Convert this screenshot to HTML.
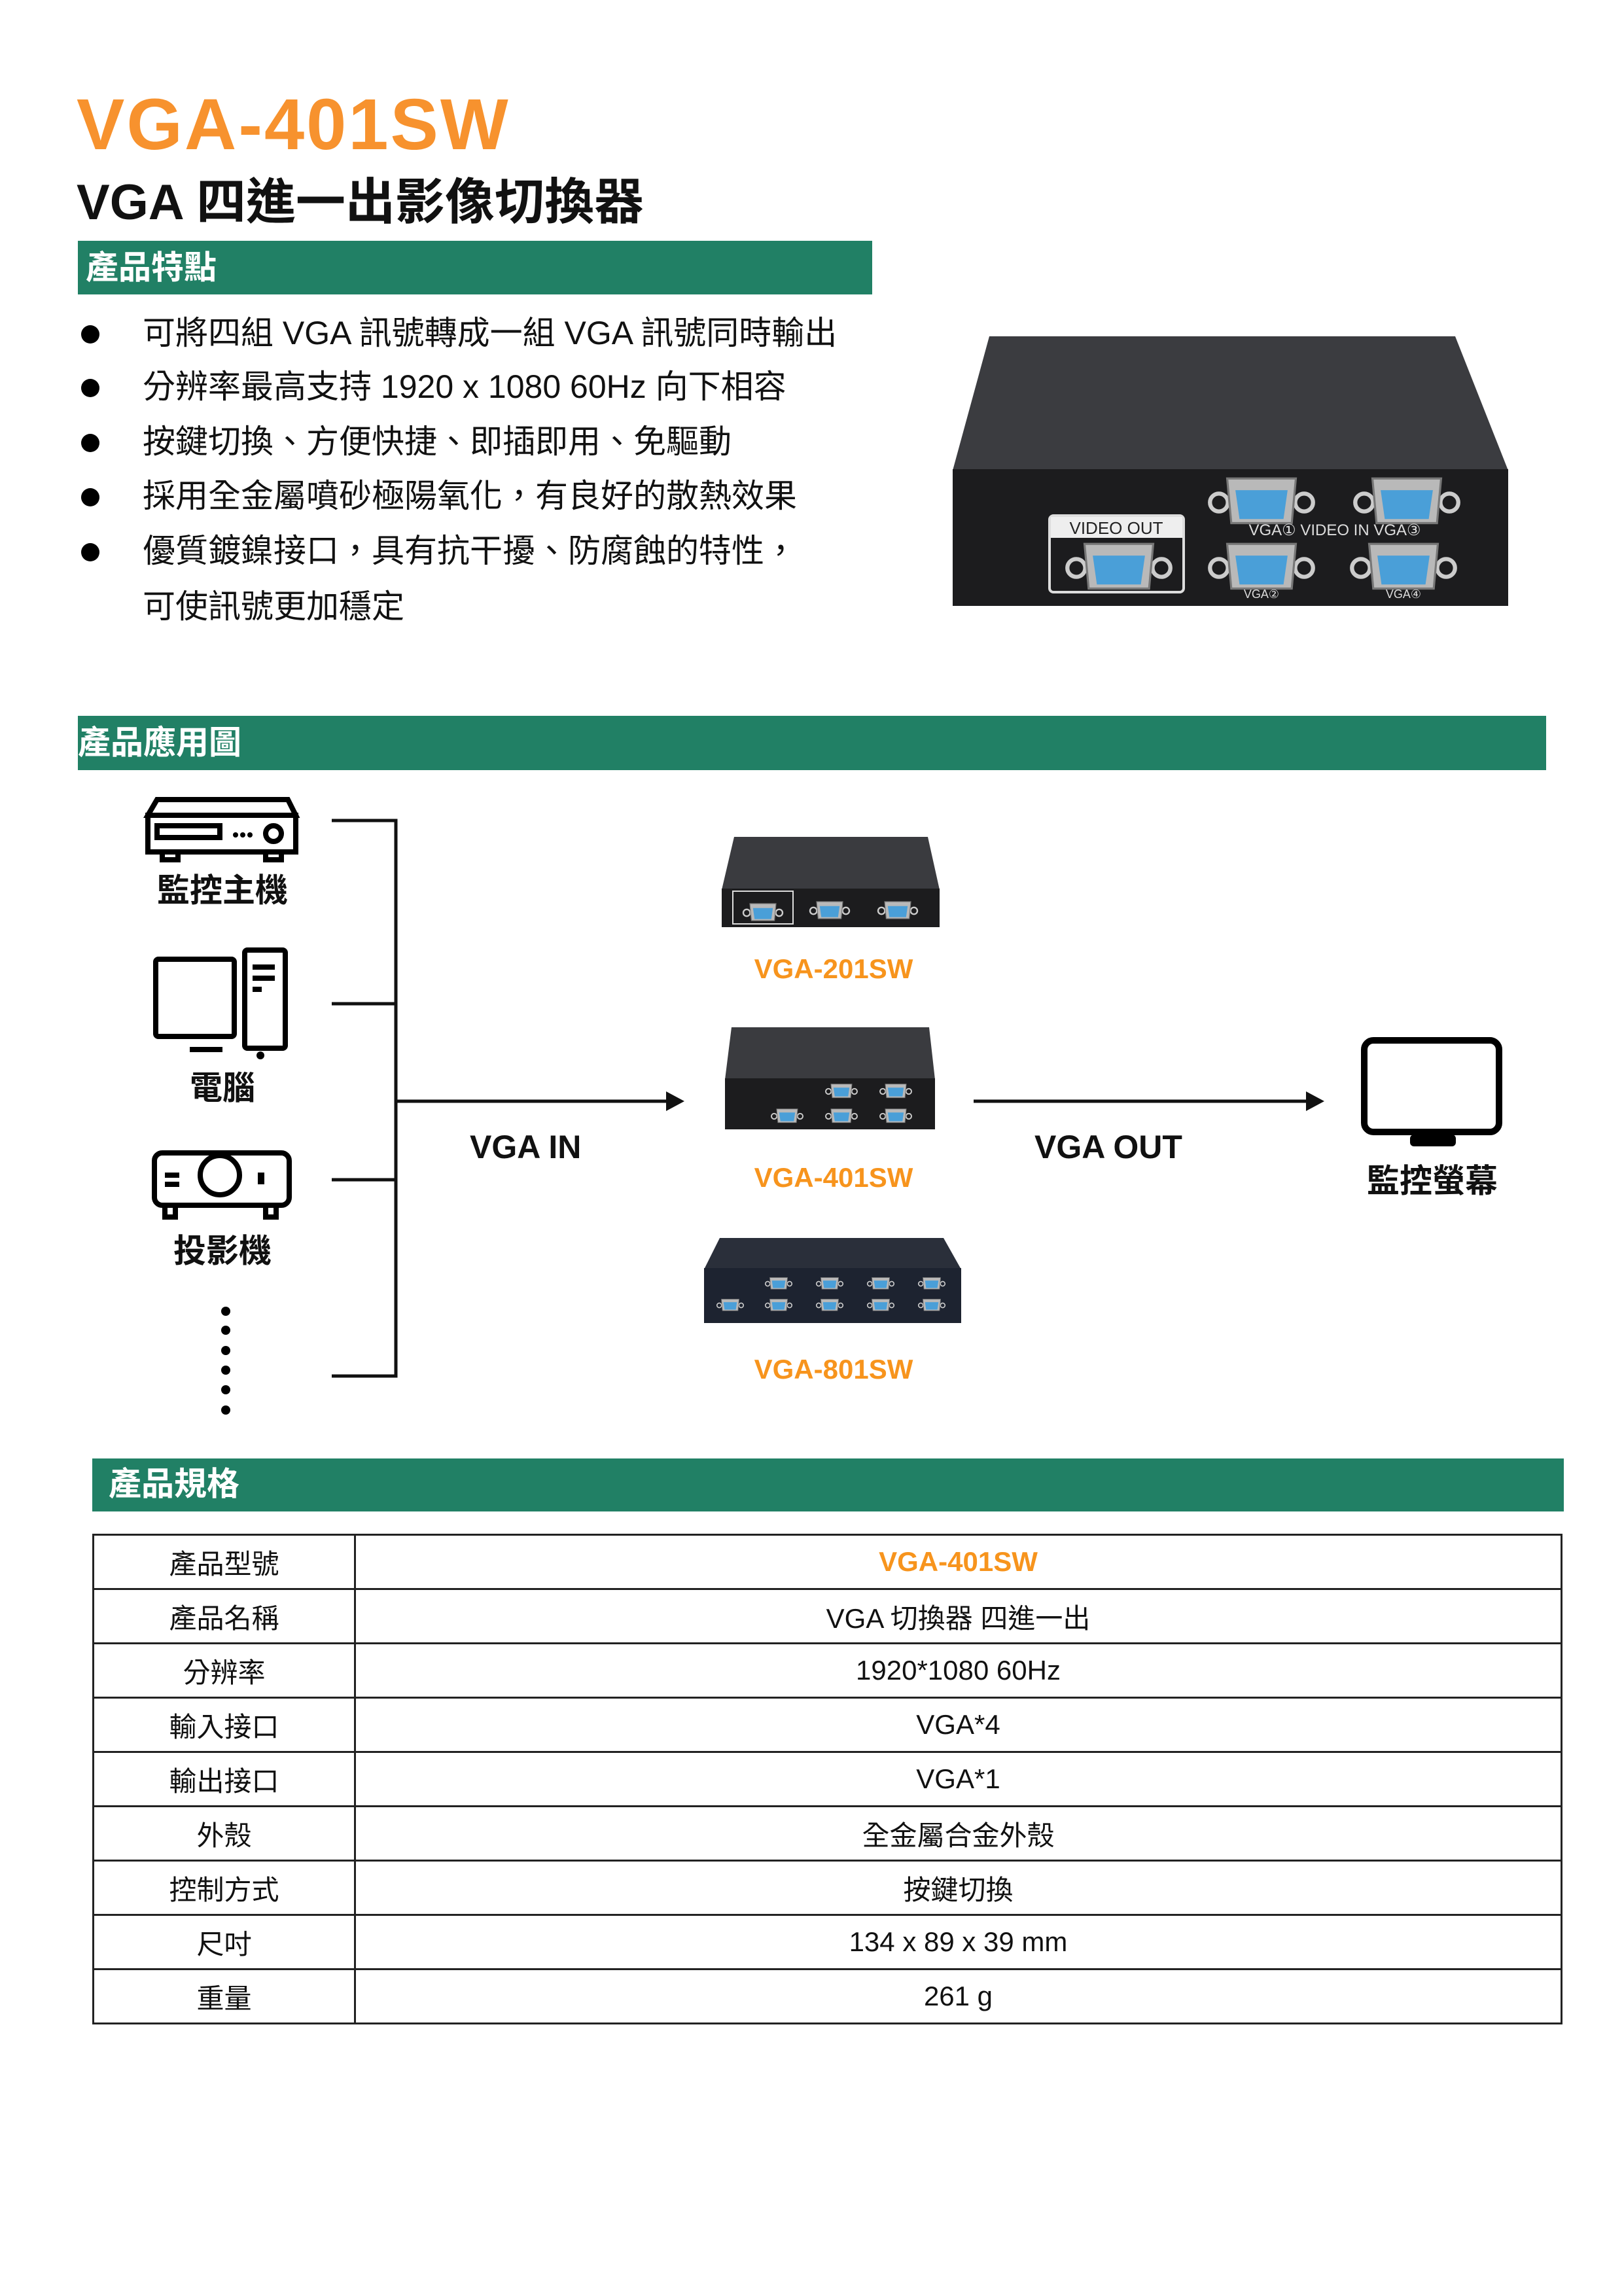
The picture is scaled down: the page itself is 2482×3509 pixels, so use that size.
<!DOCTYPE html>
<html><head><meta charset="utf-8"><style>
*{margin:0;padding:0;box-sizing:border-box}
body{width:2482px;height:3509px;background:#fff;position:relative;font-family:"Liberation Sans","Noto Sans CJK TC",sans-serif;color:#111;overflow:hidden}
.a{position:absolute;white-space:nowrap}
.bar{position:absolute;background:#218065}
.bar span{position:absolute;color:#fff;font-weight:bold;font-size:50px;line-height:1}
.bul{position:absolute;left:218px;font-size:50px;line-height:1}
.dot{position:absolute;left:124px;width:28px;height:28px;border-radius:50%;background:#000}
.lbl{position:absolute;font-weight:bold;font-size:50px;line-height:1;text-align:center;width:300px}
.org{color:#f7941d;font-weight:bold;font-size:42px;position:absolute;width:400px;text-align:center;line-height:1}
table{position:absolute;left:141px;top:2344px;width:2247px;border-collapse:collapse}
td{border:3px solid #222;font-size:42px;text-align:center;height:83px;padding:0}
td:first-child{width:400px}
</style></head><body>
<div class="a" style="left:117px;top:136px;font-size:110px;font-weight:900;color:#f7922e;line-height:1;letter-spacing:3px">VGA-401SW</div>
<div class="a" style="left:117px;top:272px;font-size:76px;font-weight:bold;line-height:1">VGA 四進一出影像切換器</div>
<div class="bar" style="left:119px;top:368px;width:1214px;height:82px"><span style="left:12px;top:16px">產品特點</span></div>

<div class="dot" style="top:497px"></div><div class="bul" style="top:484px">可將四組 VGA 訊號轉成一組 VGA 訊號同時輸出</div>
<div class="dot" style="top:579px"></div><div class="bul" style="top:566px">分辨率最高支持 1920 x 1080 60Hz 向下相容</div>
<div class="dot" style="top:663px"></div><div class="bul" style="top:650px">按鍵切換、方便快捷、即插即用、免驅動</div>
<div class="dot" style="top:746px"></div><div class="bul" style="top:733px">採用全金屬噴砂極陽氧化，有良好的散熱效果</div>
<div class="dot" style="top:830px"></div><div class="bul" style="top:817px">優質鍍鎳接口，具有抗干擾、防腐蝕的特性，</div>
<div class="bul" style="top:902px">可使訊號更加穩定</div>

<svg class="a" style="left:0;top:0" width="2482" height="3509">
<defs>
<g id="c">
<circle cx="-62" cy="0" r="13" fill="none" stroke="#ccc" stroke-width="6"/>
<circle cx="62" cy="0" r="13" fill="none" stroke="#ccc" stroke-width="6"/>
<path d="M-50,-35 L50,-35 L44,30 L-44,30 Z" fill="#b9b9b9" stroke="#777" stroke-width="3"/>
<path d="M-38,-18 L38,-18 L32,24 L-32,24 Z" fill="#4a9fd8"/>
</g>
</defs>
<polygon points="1512,514 2224,514 2305,719 1456,719" fill="#3b3c40"/>
<rect x="1456" y="717" width="849" height="209" fill="#1c1c1e"/>
<rect x="1604" y="788" width="205" height="117" fill="none" stroke="#ddd" stroke-width="4" rx="6"/>
<rect x="1606" y="790" width="201" height="32" fill="#eee"/>
<text x="1706" y="816" font-size="26" text-anchor="middle" fill="#222" font-family="Liberation Sans">VIDEO OUT</text>
<use href="#c" transform="translate(1710,868) scale(1.05)"/>
<use href="#c" transform="translate(1928,768) scale(1.05)"/>
<use href="#c" transform="translate(2150,768) scale(1.05)"/>
<use href="#c" transform="translate(1928,868) scale(1.05)"/>
<use href="#c" transform="translate(2145,868) scale(1.05)"/>
<text x="2040" y="818" font-size="24" text-anchor="middle" fill="#ddd" font-family="Liberation Sans">VGA①  VIDEO IN  VGA③</text>
<text x="1928" y="914" font-size="18" text-anchor="middle" fill="#ddd" font-family="Liberation Sans">VGA②</text>
<text x="2145" y="914" font-size="18" text-anchor="middle" fill="#ddd" font-family="Liberation Sans">VGA④</text>

<g stroke="#111" stroke-width="5" fill="none">
<path d="M507,1254 H605 V2103 H507"/>
<path d="M507,1534 H605 M507,1803 H605"/>
<path d="M605,1683 H1035 M1488,1683 H2013"/>
</g>
<path d="M1018,1668 L1046,1683 L1018,1698 Z" fill="#111"/>
<path d="M1996,1668 L2024,1683 L1996,1698 Z" fill="#111"/>
<g stroke="#000" stroke-width="8" fill="none">
<path d="M240,1222 H440 L452,1246 H226 Z"/>
<rect x="226" y="1246" width="226" height="56"/>
<rect x="240" y="1262" width="96" height="18"/>
<circle cx="418" cy="1274" r="12"/>
<path d="M248,1302 v12 h24 v-12 M406,1302 v12 h24 v-12"/>
<rect x="238" y="1466" width="120" height="118" rx="4"/>
<rect x="374" y="1452" width="62" height="150" rx="4"/>
<path d="M290,1604 H340 M386,1478 H420 M386,1495 H420 M386,1512 H400"/>
<rect x="236" y="1762" width="206" height="80" rx="12"/>
<circle cx="336" cy="1796" r="30"/>
<path d="M252,1796 h22 M252,1810 h22"/>
<path d="M252,1842 v18 h16 v-18 M406,1842 v18 h16 v-18"/>
<rect x="2085" y="1590" width="206" height="140" rx="14" stroke-width="10"/>
</g>
<circle cx="360" cy="1276" r="4"/><circle cx="371" cy="1276" r="4"/><circle cx="382" cy="1276" r="4"/>
<rect x="394" y="1792" width="10" height="18" fill="#000"/>
<circle cx="398" cy="1613" r="6" fill="#000"/>
<rect x="2155" y="1734" width="70" height="18" rx="6" fill="#000"/>
<g fill="#000"><circle cx="345" cy="2004" r="7"/><circle cx="345" cy="2033" r="7"/><circle cx="345" cy="2064" r="7"/><circle cx="345" cy="2094" r="7"/><circle cx="345" cy="2124" r="7"/><circle cx="345" cy="2155" r="7"/></g>

<polygon points="1122,1279 1418,1279 1436,1360 1103,1360" fill="#3a3b3f"/>
<rect x="1103" y="1358" width="333" height="59" fill="#1c1c1e"/>
<rect x="1120" y="1362" width="92" height="50" fill="none" stroke="#ddd" stroke-width="2"/>
<use href="#c" transform="translate(1166,1395) scale(0.4)"/>
<use href="#c" transform="translate(1268,1392) scale(0.4)"/>
<use href="#c" transform="translate(1372,1392) scale(0.4)"/>
<polygon points="1118,1570 1420,1570 1429,1650 1108,1650" fill="#3a3b3f"/>
<rect x="1108" y="1648" width="321" height="78" fill="#1c1c1e"/>
<use href="#c" transform="translate(1203,1706) scale(0.32)"/>
<use href="#c" transform="translate(1286,1668) scale(0.32)"/>
<use href="#c" transform="translate(1369,1668) scale(0.32)"/>
<use href="#c" transform="translate(1286,1706) scale(0.32)"/>
<use href="#c" transform="translate(1369,1706) scale(0.32)"/>
<polygon points="1100,1892 1442,1892 1469,1940 1076,1940" fill="#2a2f3a"/>
<rect x="1076" y="1938" width="393" height="84" fill="#1d2330"/>
<use href="#c" transform="translate(1190,1962) scale(0.27)"/>
<use href="#c" transform="translate(1268,1962) scale(0.27)"/>
<use href="#c" transform="translate(1346,1962) scale(0.27)"/>
<use href="#c" transform="translate(1424,1962) scale(0.27)"/>
<use href="#c" transform="translate(1116,1995) scale(0.27)"/>
<use href="#c" transform="translate(1190,1995) scale(0.27)"/>
<use href="#c" transform="translate(1268,1995) scale(0.27)"/>
<use href="#c" transform="translate(1346,1995) scale(0.27)"/>
<use href="#c" transform="translate(1424,1995) scale(0.27)"/>
</svg>

<div class="bar" style="left:119px;top:1094px;width:2244px;height:83px"><span style="left:0;top:16px">產品應用圖</span></div>
<div class="lbl" style="left:190px;top:1336px">監控主機</div>
<div class="lbl" style="left:190px;top:1638px">電腦</div>
<div class="lbl" style="left:190px;top:1887px">投影機</div>
<div class="lbl" style="left:2039px;top:1780px">監控螢幕</div>
<div class="a" style="left:718px;top:1724px;font-size:50px;font-weight:bold">VGA IN</div>
<div class="a" style="left:1581px;top:1724px;font-size:50px;font-weight:bold">VGA OUT</div>
<div class="org" style="left:1074px;top:1460px">VGA-201SW</div>
<div class="org" style="left:1074px;top:1779px">VGA-401SW</div>
<div class="org" style="left:1074px;top:2072px">VGA-801SW</div>

<div class="bar" style="left:141px;top:2229px;width:2249px;height:81px"><span style="left:25px;top:14px">產品規格</span></div>
<table>
<tr><td>產品型號</td><td style="color:#f7941d;font-weight:bold">VGA-401SW</td></tr>
<tr><td>產品名稱</td><td>VGA 切換器 四進一出</td></tr>
<tr><td>分辨率</td><td>1920*1080 60Hz</td></tr>
<tr><td>輸入接口</td><td>VGA*4</td></tr>
<tr><td>輸出接口</td><td>VGA*1</td></tr>
<tr><td>外殼</td><td>全金屬合金外殼</td></tr>
<tr><td>控制方式</td><td>按鍵切換</td></tr>
<tr><td>尺吋</td><td>134 x 89 x 39 mm</td></tr>
<tr><td>重量</td><td>261 g</td></tr>
</table>
</body></html>
